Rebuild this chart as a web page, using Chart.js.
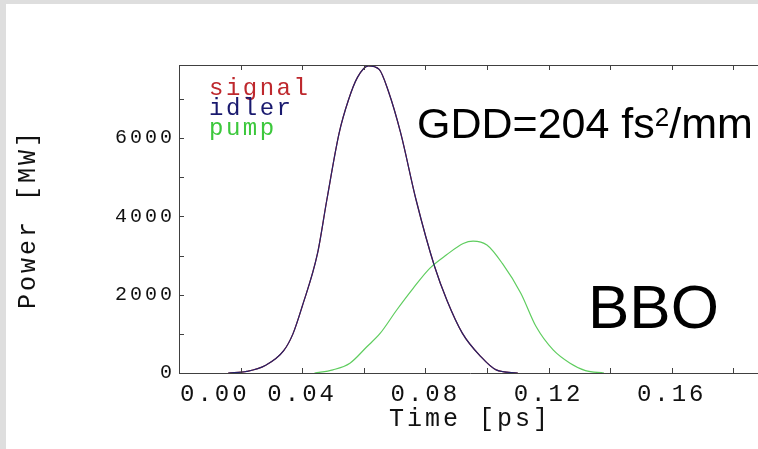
<!DOCTYPE html>
<html>
<head>
<meta charset="utf-8">
<script src="https://cdn.jsdelivr.net/npm/chart.js@4.4.0/dist/chart.umd.min.js"></script>
<style>
  html, body { margin: 0; padding: 0; overflow: hidden; background: #fff; }
  #frame {
    position: absolute; left: 0; top: 0; width: 800px; height: 449px;
    border-top: 4px solid #dedede; border-left: 6px solid #dedede;
    box-sizing: border-box; background: #fff;
  }
  #pulse-chart { display: block; }
</style>
</head>
<body>
<div id="frame"><canvas id="pulse-chart" width="794" height="445"></canvas></div>
<script>
// pulse shapes at crystal exit, time in ps, power in MW
let idlerTime = [0.016, 0.022, 0.028, 0.034, 0.037, 0.040, 0.045, 0.048, 0.052, 0.055, 0.058, 0.0615,
  0.065, 0.068, 0.072, 0.077, 0.083, 0.087, 0.092, 0.098, 0.103, 0.110];
let idlerPower = [0, 40, 190, 570, 1000, 1700, 3060, 4420, 6130, 6970, 7560, 7850,
  7760, 7200, 6130, 4420, 2720, 1860, 1020, 420, 80, 0];

// signal sits exactly under the idler curve
let signalTime = idlerTime;
let signalPower = idlerPower;

let pumpTime = [0.044, 0.050, 0.0555, 0.061, 0.0653, 0.0707, 0.0761, 0.0815, 0.0869, 0.0923, 0.0955,
  0.100, 0.105, 0.111, 0.116, 0.1215, 0.127, 0.132, 0.138];
let pumpPower = [0, 80, 250, 670, 1010, 1610, 2170, 2680, 3020, 3310, 3370,
  3270, 2800, 2040, 1180, 590, 250, 60, 0];

// tick positions; every other one gets a label
let yTicks = [0, 1000, 2000, 3000, 4000, 5000, 6000, 7000];
let xTicks = [0, 0.02, 0.04, 0.06, 0.08, 0.10, 0.12, 0.14, 0.16, 0.18];

let seriesNames = ['signal', 'idler', 'pump'];
let seriesColors = ['rgb(190, 40, 45)', 'rgb(35, 35, 105)', 'rgb(95, 205, 95)'];
let legendColors = ['rgb(190, 40, 45)', 'rgb(25, 25, 110)', 'rgb(60, 200, 60)'];

let monoFont = '"Liberation Mono", "DejaVu Sans Mono", monospace';
let axisColor = '#404040';
let textColor = '#111';
let xTickPadding = 7;
let xTickSize = 24;

const toPoints = (xs, ys) => xs.map((x, i) => ({x: x, y: ys[i]}));
const onStep = (v, step) => Math.abs(v / step - Math.round(v / step)) < 1e-6;

// frame top edge, inward tick marks, legend and annotations
const frameTicks = {
  id: 'frameTicks',
  beforeDraw(chart) {
    chart.ctx.letterSpacing = '3px';
  },
  afterDraw(chart) {
    const {ctx, chartArea, scales} = chart;
    ctx.save();
    ctx.strokeStyle = axisColor;
    ctx.lineWidth = 1;
    ctx.beginPath();
    ctx.moveTo(chartArea.left, chartArea.top + 0.5);
    ctx.lineTo(chartArea.right, chartArea.top + 0.5);
    scales.x.ticks.forEach((t) => {
      let px = Math.round(scales.x.getPixelForValue(t.value)) + 0.5;
      ctx.moveTo(px, chartArea.bottom);
      ctx.lineTo(px, chartArea.bottom - 5);
      ctx.moveTo(px, chartArea.top);
      ctx.lineTo(px, chartArea.top + 5);
    });
    scales.y.ticks.forEach((t) => {
      let py = Math.round(scales.y.getPixelForValue(t.value)) + 0.5;
      ctx.moveTo(chartArea.left, py);
      ctx.lineTo(chartArea.left + 5, py);
    });
    ctx.stroke();

    // first x label sits flush with the axis
    ctx.fillStyle = textColor;
    ctx.font = xTickSize + 'px ' + monoFont;
    ctx.letterSpacing = '3px';
    ctx.textAlign = 'left';
    ctx.textBaseline = 'middle';
    ctx.fillText(xTicks[0].toFixed(2), chartArea.left + 1, scales.x.top + xTickPadding + xTickSize * 0.6);

    // series labels
    ctx.font = '24px ' + monoFont;
    ctx.letterSpacing = '2.5px';
    ctx.textBaseline = 'alphabetic';
    seriesNames.forEach((name, i) => {
      ctx.fillStyle = legendColors[i];
      ctx.fillText(name, 203, 91 + i * 20);
    });

    // annotations
    ctx.letterSpacing = '0px';
    ctx.fillStyle = '#000';
    let x = 411;
    ctx.font = '43px "Liberation Sans", Arial, sans-serif';
    ctx.fillText('GDD=204 fs', x, 134);
    x += ctx.measureText('GDD=204 fs').width;
    ctx.font = '26px "Liberation Sans", Arial, sans-serif';
    ctx.fillText('2', x, 122);
    x += ctx.measureText('2').width;
    ctx.font = '43px "Liberation Sans", Arial, sans-serif';
    ctx.fillText('/mm', x, 134);

    ctx.font = '62px "Liberation Sans", Arial, sans-serif';
    ctx.fillText('BBO', 582, 324);
    ctx.restore();
  }
};

let renderChart = () => {
  let canvas = document.getElementById('pulse-chart');
  new Chart(canvas, {
    type: 'line',
    data: {
      datasets: [
        {label: seriesNames[0], data: toPoints(signalTime, signalPower), borderColor: seriesColors[0], order: 3},
        {label: seriesNames[1], data: toPoints(idlerTime, idlerPower), borderColor: seriesColors[1], order: 1},
        {label: seriesNames[2], data: toPoints(pumpTime, pumpPower), borderColor: seriesColors[2], order: 2},
      ],
    },
    options: {
      responsive: false,
      animation: false,
      layout: {padding: {top: 61, right: 39, left: 0, bottom: 0}},
      elements: {
        point: {radius: 0},
        line: {borderWidth: 1.2, cubicInterpolationMode: 'monotone', fill: false},
      },
      plugins: {legend: {display: false}, tooltip: {enabled: false}},
      scales: {
        x: {
          type: 'linear',
          min: 0,
          max: 0.189,
          afterBuildTicks: (scale) => { scale.ticks = xTicks.map((v) => ({value: v})); },
          afterFit: (scale) => { scale.height = 76; },
          grid: {display: false, drawTicks: false},
          border: {display: true, color: axisColor, width: 1},
          ticks: {
            autoSkip: false,
            maxRotation: 0,
            padding: xTickPadding,
            color: textColor,
            font: {family: monoFont, size: xTickSize},
            callback: (v) => (v > 0 && onStep(v, 0.04)) ? v.toFixed(2) : '',
          },
          title: {
            display: true,
            text: 'Time [ps]',
            color: textColor,
            font: {family: monoFont, size: 25},
            padding: {top: 0, bottom: 15},
          },
        },
        y: {
          min: 0,
          max: 7870,
          afterBuildTicks: (scale) => { scale.ticks = yTicks.map((v) => ({value: v})); },
          afterFit: (scale) => { scale.width = 173; },
          grid: {display: false, drawTicks: false},
          border: {display: true, color: axisColor, width: 1},
          ticks: {
            autoSkip: false,
            padding: 4,
            color: textColor,
            font: {family: monoFont, size: 20},
            callback: (v) => onStep(v, 2000) ? String(v) : '',
          },
          title: {
            display: true,
            text: 'Power [MW]',
            color: textColor,
            font: {family: monoFont, size: 25},
            padding: {top: 7, bottom: 0},
          },
        },
      },
    },
    plugins: [frameTicks],
  });
};

renderChart();
</script>
</body>
</html>
